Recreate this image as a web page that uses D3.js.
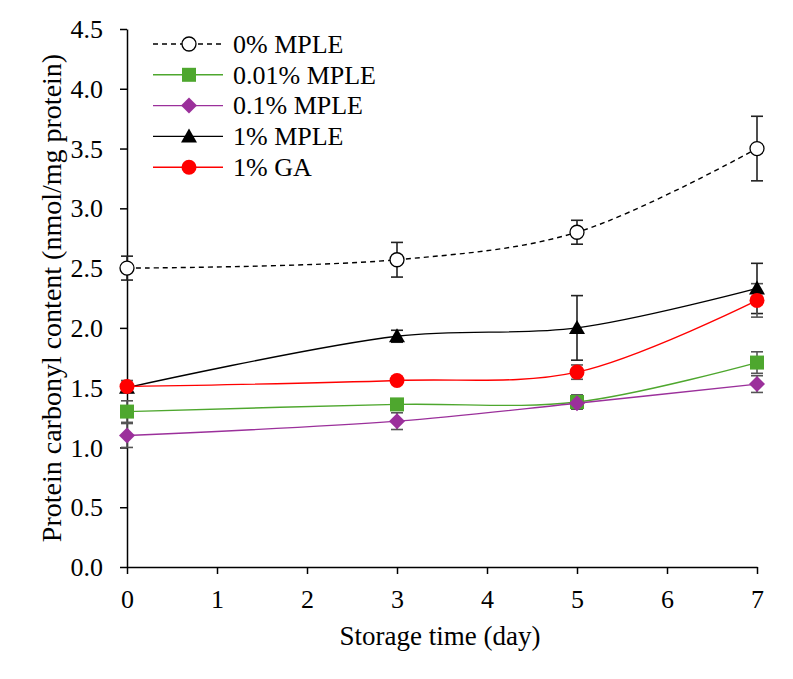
<!DOCTYPE html>
<html><head><meta charset="utf-8">
<script src="https://cdn.jsdelivr.net/npm/d3@7"></script>
<style>
body{margin:0;background:#fff;}
text{font-family:"Liberation Serif","Times New Roman",serif;}
</style></head>
<body><svg id="c" width="793" height="679"></svg>
<script>
const days = [0, 3, 5, 7];
const seriesNames = ["0% MPLE", "0.01% MPLE", "0.1% MPLE", "1% MPLE", "1% GA"];
const mple0 = [2.50, 2.57, 2.80, 3.50];
const mple0Err = [0.10, 0.145, 0.10, 0.27];
const mple001 = [1.30, 1.36, 1.38, 1.71];
const mple001Err = [0.09, 0.03, 0.06, 0.09];
const mple01 = [1.10, 1.22, 1.37, 1.53];
const mple01Err = [0.10, 0.07, 0.05, 0.07];
const mple1 = [1.50, 1.93, 2.00, 2.33];
const mple1Err = [0.02, 0.05, 0.27, 0.21];
const ga1 = [1.51, 1.56, 1.63, 2.23];
const ga1Err = [0.05, 0.03, 0.06, 0.14];
const xTicks = [0, 1, 2, 3, 4, 5, 6, 7];
const yTicks = [0, 0.5, 1.0, 1.5, 2.0, 2.5, 3.0, 3.5, 4.0, 4.5];

const svg = d3.select("#c");
const x = d3.scaleLinear().domain([0, 7]).range([127, 757]);
const y = d3.scaleLinear().domain([0, 4.5]).range([567, 29]);
const FONT = '"Liberation Serif","Times New Roman",serif';

const styles = [
  {vals: mple0, err: mple0Err, color: "#000", fill: "#fff", sym: "circle", dash: "5,4", ecol: "#222"},
  {vals: mple001, err: mple001Err, color: "#4ea72e", fill: "#4ea72e", sym: "square", dash: null, ecol: "#555"},
  {vals: mple01, err: mple01Err, color: "#9b309b", fill: "#9b309b", sym: "diamond", dash: null, ecol: "#555"},
  {vals: mple1, err: mple1Err, color: "#000", fill: "#000", sym: "triangle", dash: null, ecol: "#222"},
  {vals: ga1, err: ga1Err, color: "#ff0000", fill: "#ff0000", sym: "circleBig", dash: null, ecol: "#555"}
];

function marker(g, sym, cx, cy, st) {
  if (sym === "circle") {
    g.append("circle").attr("cx", cx).attr("cy", cy).attr("r", 7).attr("fill", "#fff").attr("stroke", "#000").attr("stroke-width", 1.3);
  } else if (sym === "circleBig") {
    g.append("circle").attr("cx", cx).attr("cy", cy).attr("r", 7.5).attr("fill", st.fill);
  } else if (sym === "square") {
    g.append("rect").attr("x", cx - 7).attr("y", cy - 7).attr("width", 14).attr("height", 14).attr("fill", st.fill);
  } else if (sym === "diamond") {
    g.append("path").attr("d", `M${cx},${cy-8}L${cx+8},${cy}L${cx},${cy+8}L${cx-8},${cy}Z`).attr("fill", st.fill);
  } else if (sym === "triangle") {
    g.append("path").attr("d", `M${cx},${cy-8}L${cx+8},${cy+6}L${cx-8},${cy+6}Z`).attr("fill", st.fill);
  }
}

// axes
const yAxis = svg.append("g").attr("transform", "translate(127,0)")
  .call(d3.axisLeft(y).tickValues(yTicks).tickSize(7).tickSizeOuter(0).tickFormat(d3.format(".1f")));
const xAxis = svg.append("g").attr("transform", "translate(0,567)")
  .call(d3.axisBottom(x).tickValues(xTicks).tickSize(7).tickSizeOuter(0).tickFormat(d3.format("d")));
[yAxis, xAxis].forEach(a => {
  a.attr("font-family", FONT);
  a.select(".domain").attr("stroke", "#000").attr("stroke-width", 1.5);
  a.selectAll(".tick line").attr("stroke", "#000").attr("stroke-width", 1.5);
  a.selectAll(".tick text").attr("font-size", 26).attr("fill", "#000").style("font-family", FONT);
});
yAxis.selectAll(".tick text").attr("x", -24).attr("dy", "0.33em");
xAxis.selectAll(".tick text").attr("y", 41).attr("dy", 0);

// lines
const line = d3.line().x((d, i) => x(days[i])).y(d => y(d)).curve(d3.curveCatmullRom.alpha(0.5));
const order = [0, 1, 2, 3, 4];
order.forEach(k => {
  const st = styles[k];
  svg.append("path").attr("d", line(st.vals)).attr("fill", "none")
    .attr("stroke", st.color).attr("stroke-width", 1.4).attr("stroke-dasharray", st.dash);
});
// error bars
order.forEach(k => {
  const st = styles[k];
  const g = svg.append("g").attr("stroke", st.ecol).attr("stroke-width", 1.6);
  st.vals.forEach((v, i) => {
    const cx = x(days[i]), y1 = y(v + st.err[i]), y2 = y(v - st.err[i]);
    g.append("line").attr("x1", cx).attr("x2", cx).attr("y1", y1).attr("y2", y2);
    g.append("line").attr("x1", cx - 6).attr("x2", cx + 6).attr("y1", y1).attr("y2", y1);
    g.append("line").attr("x1", cx - 6).attr("x2", cx + 6).attr("y1", y2).attr("y2", y2);
  });
});
// markers
order.forEach(k => {
  const st = styles[k];
  const g = svg.append("g");
  st.vals.forEach((v, i) => marker(g, st.sym, x(days[i]), y(v), st));
});

// legend
const leg = svg.append("g");
seriesNames.forEach((name, k) => {
  const st = styles[k];
  const ly = 44 + k * 30.8;
  leg.append("line").attr("x1", 153).attr("x2", 223).attr("y1", ly).attr("y2", ly)
    .attr("stroke", st.color).attr("stroke-width", 1.4).attr("stroke-dasharray", st.dash);
  marker(leg, st.sym, 189, ly, st);
  leg.append("text").attr("x", 233).attr("y", ly).attr("dy", "0.34em")
    .attr("font-size", 26).attr("fill", "#000").text(name);
});

// titles
svg.append("text").attr("x", 440).attr("y", 645).attr("text-anchor", "middle")
  .attr("font-size", 27).attr("fill", "#000").text("Storage time (day)");
svg.append("text").attr("transform", "translate(61,298) rotate(-90)").attr("text-anchor", "middle")
  .attr("font-size", 28).attr("fill", "#000").text("Protein carbonyl content (nmol/mg protein)");
</script></body></html>
